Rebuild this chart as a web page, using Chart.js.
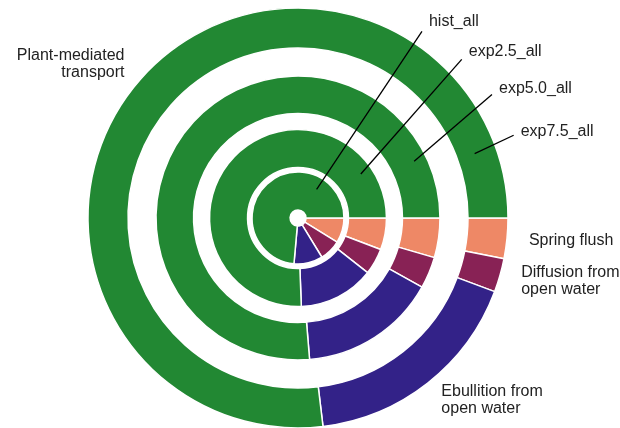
<!DOCTYPE html>
<html>
<head>
<meta charset="utf-8">
<script src="https://cdn.jsdelivr.net/npm/chart.js@4.4.1/dist/chart.umd.min.js"></script>
<style>
  html, body { margin: 0; padding: 0; background: #fff; overflow: hidden; }
  canvas { display: block; }
</style>
</head>
<body>
<canvas id="fluxChart" width="620" height="440"></canvas>
<script>
// share of each pathway (%) per scenario, clockwise from 3 o'clock
const categories = ['Spring flush', 'Diffusion from open water', 'Ebullition from open water', 'Plant-mediated transport'];
const labelLines = [['Spring flush'], ['Diffusion from', 'open water'], ['Ebullition from', 'open water'], ['Plant-mediated', 'transport']];
const scenarios = ['hist_all', 'exp2.5_all', 'exp5.0_all', 'exp7.5_all'];
const histAll = [8.8, 7.5, 10.1, 73.6];
const exp25All = [5.8, 4.8, 13.8, 75.6];
const exp50All = [4.5, 3.6, 15.6, 76.3];
const exp75All = [3.1, 2.6, 17.4, 76.9];
const colors = ['#EE8866', '#882255', '#332288', '#228833'];

// ring thickness (weights) from outside in, with blank rings as spacers
const ringWeights = [40, 28, 37.5, 16, 38, 4.5, 38];

// leader lines for ring names: angle (deg) / position inside ring, outer end angle / radius
const leaderInAngle = [-57, -35, -26, -20];
const leaderInFrac = [0.69, 0.69, 0.66, 0.45];
const leaderOutAngle = [-56.4, -44.1, -32.5, -21];
const leaderOutR = [224, 228, 230, 231];
const leaderTextDy = [-5, -3, -1, 1];

function ring(label, data, weight) {
  return {
    label: label,
    data: data,
    backgroundColor: colors,
    borderColor: '#fff',
    borderWidth: 1.5,
    weight: weight
  };
}
function spacer(weight) {
  return {
    label: '',
    data: [1],
    backgroundColor: 'rgba(0,0,0,0)',
    borderWidth: 0,
    weight: weight
  };
}

const ringLabels = {
  id: 'ringLabels',
  afterDraw(chart) {
    const ctx = chart.ctx;
    const outer = chart.getDatasetMeta(0).data;
    const cx = outer[0].x, cy = outer[0].y;
    ctx.save();
    ctx.font = '16px "Liberation Sans", Arial, sans-serif';
    ctx.fillStyle = '#222';

    // pathway names outside the outer ring
    outer.forEach((arc, i) => {
      const mid = (arc.startAngle + arc.endAngle) / 2;
      const r = arc.outerRadius + 22;
      const x = cx + r * Math.cos(mid);
      const y = cy + r * Math.sin(mid);
      ctx.textAlign = Math.cos(mid) >= 0 ? 'left' : 'right';
      ctx.textBaseline = 'middle';
      const lines = labelLines[i];
      lines.forEach((t, k) => ctx.fillText(t, x, y + (k - (lines.length - 1) / 2) * 17));
    });

    // scenario names with leader lines
    const ringIndex = [6, 4, 2, 0];
    ctx.strokeStyle = '#000';
    ctx.lineWidth = 1.3;
    ctx.textAlign = 'left';
    ctx.textBaseline = 'alphabetic';
    scenarios.forEach((name, i) => {
      const arc = chart.getDatasetMeta(ringIndex[i]).data[0];
      const rIn = arc.innerRadius + (arc.outerRadius - arc.innerRadius) * leaderInFrac[i];
      const aIn = leaderInAngle[i] * Math.PI / 180;
      const aOut = leaderOutAngle[i] * Math.PI / 180;
      const x1 = cx + rIn * Math.cos(aIn), y1 = cy + rIn * Math.sin(aIn);
      const x2 = cx + leaderOutR[i] * Math.cos(aOut), y2 = cy + leaderOutR[i] * Math.sin(aOut);
      ctx.beginPath();
      ctx.moveTo(x1, y1);
      ctx.lineTo(x2, y2);
      ctx.stroke();
      ctx.fillText(name, x2 + 7, y2 + leaderTextDy[i]);
    });
    ctx.restore();
  }
};

const ctx = document.getElementById('fluxChart').getContext('2d');
const fluxChart = new Chart(ctx, {
  type: 'doughnut',
  data: {
    labels: categories,
    datasets: [
      ring(scenarios[3], exp75All, ringWeights[0]),
      spacer(ringWeights[1]),
      ring(scenarios[2], exp50All, ringWeights[2]),
      spacer(ringWeights[3]),
      ring(scenarios[1], exp25All, ringWeights[4]),
      spacer(ringWeights[5]),
      ring(scenarios[0], histAll, ringWeights[6])
    ]
  },
  options: {
    responsive: false,
    animation: false,
    events: [],
    rotation: 90,
    radius: 210,
    cutout: 8,
    layout: { padding: { left: 86, right: 110, top: 6, bottom: 10 } },
    plugins: {
      legend: { display: false },
      tooltip: { enabled: false }
    }
  },
  plugins: [ringLabels]
});
</script>
</body>
</html>
